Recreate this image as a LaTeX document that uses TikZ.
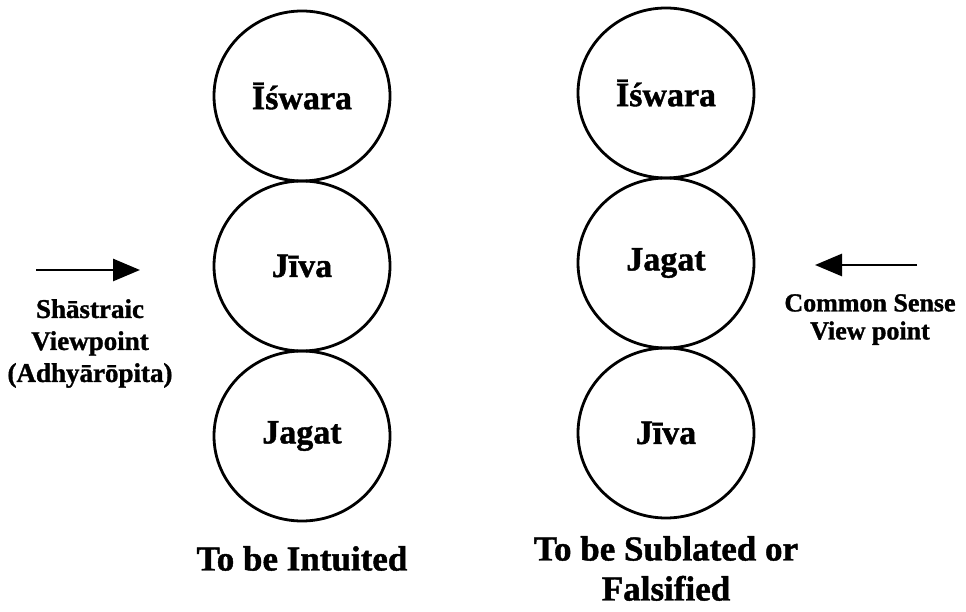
\documentclass[tikz,border=0pt]{standalone}
\usepackage{fontspec}
\setmainfont[BoldFeatures={FakeBold=1.2}]{Liberation Serif}
\usetikzlibrary{arrows.meta,positioning,shapes.geometric}

\begin{document}
\begin{tikzpicture}[
  x=1pt, y=1pt,
  node distance=0pt,
  orb/.style={draw, ellipse, line width=2.8pt, inner sep=0pt, outer sep=0pt,
              minimum width=176pt, minimum height=170pt,
              font=\fontsize{34}{40}\selectfont\bfseries},
  caption/.style={inner sep=0pt, align=center, font=\fontsize{35}{40}\selectfont\bfseries},
  side/.style={inner sep=0pt, align=center, font=\fontsize{27}{32}\selectfont\bfseries},
  arr/.style={-{Triangle[length=27pt,width=22pt]}, line width=2.8pt}
]
  \useasboundingbox (0,0) rectangle (966,611);
  % left column
  \node[orb] (iswL) at (302,515) {Īśwara};
  \node[orb, below=of iswL] (jivL) {Jīva};
  \node[orb, below=of jivL] (jagL) {Jagat};
  \node[caption, below=25pt of jagL] (intu) {To be Intuited};
  % right column
  \node[orb] (iswR) at (666,518) {Īśwara};
  \node[orb, below=of iswR] (jagR) {Jagat};
  \node[orb, below=of jagR] (jivR) {Jīva};
  \node[caption, below=18pt of jivR] (subl) {To be Sublated or\\Falsified};
  % viewpoints
  \node[side, anchor=north] (shas) at (90,312) {Shāstraic\\Viewpoint\\(Adhyārōpita)};
  \node[side, font=\fontsize{26}{28}\selectfont\bfseries, anchor=north] (comm) at (870,317) {Common Sense\\View point};
  \coordinate (shasA) at (36,341);
  \coordinate (shasB) at (140,341);
  \coordinate (commA) at (917,346);
  \coordinate (commB) at (815,346);
  \draw[arr] (shasA) -- (shasB);
  \draw[arr] (commA) -- (commB);
\end{tikzpicture}
\end{document}
